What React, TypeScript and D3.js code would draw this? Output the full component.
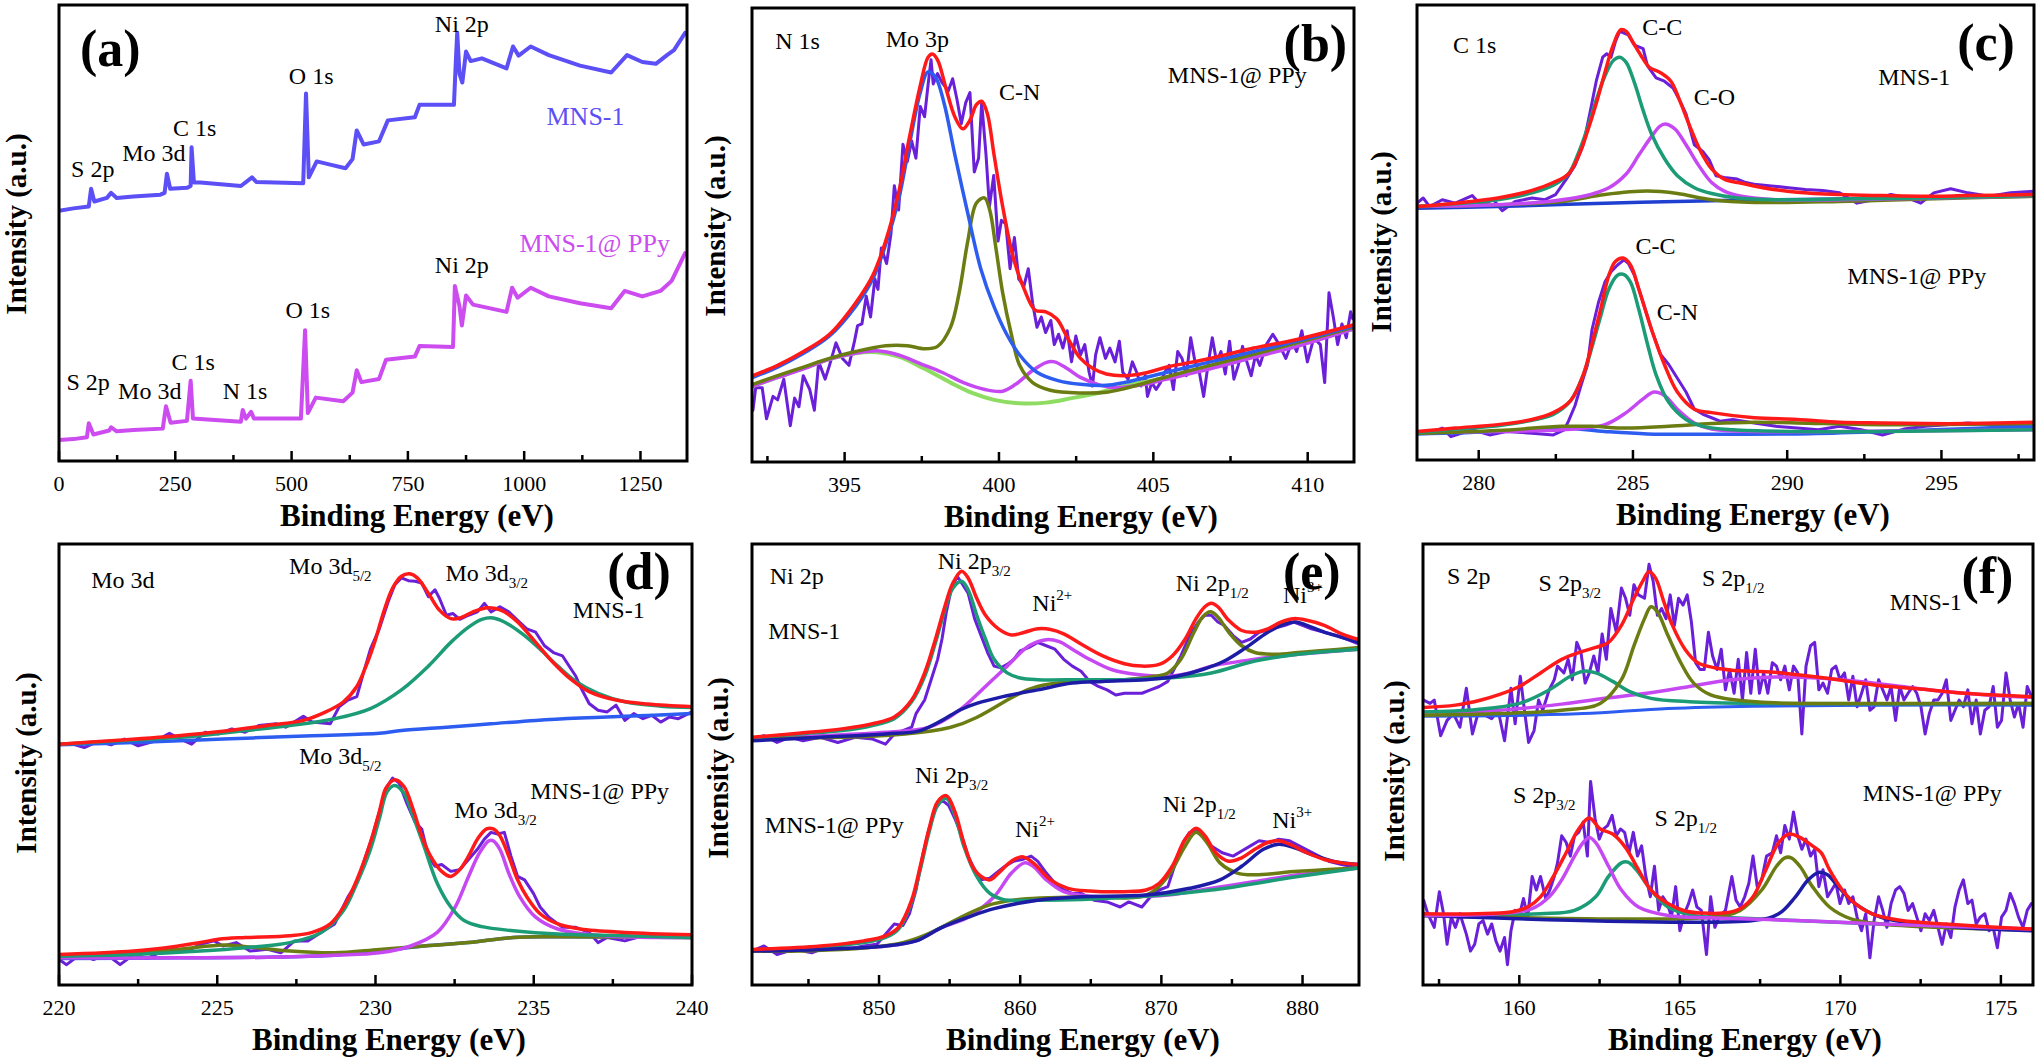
import * as d3 from "d3";

type Pt = [number, number];

const SERIF = "'Liberation Serif', 'Times New Roman', Times, serif";

// colours
const RAW = "#6a1fd8";
const FIT = "#ff1a1a";
const TEAL = "#1c9c76";
const OLIVE = "#6b7d12";
const PINK = "#c648f2";
const BLUE = "#2d5cf0";
const NAVY = "#1c1ca6";
const LIME = "#8fdc62";

// ---------------- (a) survey ----------------
const A_MNS1: Pt[] = [[0,54.9],[31,55.4],[64,55.8],[69,59.7],[76,56.9],[103,57.7],[112,58.8],[124,57.7],[160,58.0],[218,58.4],[227,58.8],[232,63.0],[239,59.7],[275,59.9],[283,60.3],[285,68.8],[290,61.1],[304,61.1],[391,60.3],[415,62.2],[424,61.2],[525,60.9],[531,80.6],[537,62.2],[554,65.7],[583,65.0],[616,64.2],[631,66.2],[640,72.5],[655,69.4],[688,70.1],[707,74.7],[765,75.4],[775,78.1],[849,78.1],[853,87.5],[856,93.9],[861,84.9],[867,83.0],[875,89.8],[885,87.7],[909,88.3],[962,86.1],[976,90.9],[988,88.9],[1014,90.9],[1053,89.0],[1120,86.7],[1187,85.2],[1221,89.0],[1254,87.5],[1283,87.1],[1307,89.0],[1322,90.1],[1346,93.9]];
const A_PPY: Pt[] = [[0,4.6],[31,4.8],[60,5.2],[64,8.3],[74,5.8],[108,6.7],[112,7.4],[124,6.5],[160,6.8],[223,7.1],[230,12.0],[240,8.4],[275,8.8],[283,17.6],[288,9.3],[391,8.6],[395,11.2],[402,9.3],[413,10.8],[419,9.3],[520,9.3],[529,28.7],[535,10.5],[552,13.9],[611,13.1],[631,15.0],[640,19.9],[650,17.3],[688,18.0],[703,22.2],[765,22.9],[775,25.2],[847,25.0],[851,38.4],[861,33.9],[866,29.7],[875,36.3],[890,34.3],[962,32.7],[974,38.0],[986,35.8],[1014,38.0],[1053,36.1],[1120,34.6],[1187,33.5],[1216,37.3],[1254,36.1],[1293,37.3],[1317,39.5],[1346,45.6]];
const A_MAJOR = [0, 250, 500, 750, 1000, 1250];
const A_MINOR = [125, 375, 625, 875, 1125];

// ---------------- (b) N 1s ----------------
const B_RAW: Pt[] = [[392.03,150],[392.12,215],[392.33,215],[392.47,125],[392.68,190],[392.83,180],[393.03,240],[393.24,105],[393.38,185],[393.52,160],[393.66,250],[393.87,210],[394.02,150],[394.16,290],[394.37,240],[394.51,280],[394.72,345],[394.93,300],[395.14,280],[395.32,350],[395.42,395],[395.56,400],[395.70,480],[395.84,420],[395.98,530],[396.08,500],[396.19,620],[396.36,575],[396.50,660],[396.61,800],[396.75,730],[396.89,920],[397.03,870],[397.17,930],[397.31,880],[397.45,1030],[397.59,1000],[397.70,1090],[397.80,1165],[397.87,1095],[398.01,1125],[398.15,1100],[398.36,1075],[398.50,1110],[398.64,1050],[398.78,980],[398.92,1040],[399.06,1070],[399.20,840],[399.34,880],[399.44,1042],[399.58,890],[399.69,740],[399.83,830],[399.97,640],[400.08,700],[400.22,690],[400.36,560],[400.50,650],[400.64,530],[400.81,510],[400.95,560],[401.09,460],[401.23,390],[401.37,420],[401.51,375],[401.68,410],[401.79,340],[401.93,370],[402.07,330],[402.21,380],[402.35,290],[402.49,365],[402.64,310],[402.78,340],[402.92,260],[403.03,220],[403.13,310],[403.27,360],[403.45,300],[403.59,330],[403.76,290],[403.90,350],[404.01,260],[404.18,240],[404.32,290],[404.46,260],[404.60,220],[404.74,250],[404.81,190],[404.95,230],[405.09,210],[405.23,230],[405.37,260],[405.51,280],[405.65,210],[405.79,320],[405.93,300],[406.07,250],[406.21,360],[406.35,290],[406.49,260],[406.63,190],[406.77,280],[406.91,360],[407.05,290],[407.19,320],[407.33,255],[407.47,350],[407.61,240],[407.75,280],[407.89,335],[408.03,290],[408.17,250],[408.31,310],[408.45,280],[408.66,340],[408.87,370],[409.08,340],[409.29,300],[409.50,350],[409.64,320],[409.81,380],[409.99,290],[410.20,360],[410.41,340],[410.55,230],[410.69,490],[410.83,420],[410.97,340],[411.11,400],[411.25,360],[411.39,435],[411.46,415]];
const B_ENV: Pt[] = [[392.03,250],[392.83,280],[393.67,320],[394.51,370],[395.35,460],[395.91,540],[396.33,640],[396.75,780],[397.10,940],[397.45,1090],[397.70,1172],[397.84,1182],[398.01,1165],[398.29,1080],[398.57,1000],[398.83,965],[399.06,990],[399.27,1035],[399.44,1045],[399.62,1010],[399.84,890],[400.12,740],[400.47,590],[400.82,500],[401.17,440],[401.52,435],[401.87,415],[402.22,360],[402.64,300],[403.06,270],[403.48,255],[404.04,250],[404.74,258],[405.44,275],[406.84,300],[408.25,330],[409.65,355],[411.47,397]];
const B_MO3P: Pt[] = [[392.03,245],[392.83,275],[393.67,315],[394.51,365],[395.35,450],[395.91,530],[396.33,630],[396.75,760],[397.10,920],[397.45,1070],[397.70,1130],[397.94,1115],[398.22,1040],[398.57,890],[398.99,720],[399.41,560],[399.84,450],[400.25,370],[400.67,310],[401.23,260],[401.94,235],[402.64,225],[403.48,222],[404.04,230],[405.44,260],[406.84,290],[408.25,320],[409.65,350],[411.47,393]];
const B_CN: Pt[] = [[392.03,225],[392.83,250],[393.67,275],[394.51,300],[395.35,320],[396.33,337],[397.03,337],[397.59,328],[398.01,335],[398.43,390],[398.71,490],[398.99,640],[399.27,750],[399.53,765],[399.70,730],[399.90,620],[400.12,490],[400.40,370],[400.67,280],[401.09,230],[401.66,208],[402.64,200],[403.48,202],[404.04,212],[405.44,247],[406.84,280],[408.25,312],[409.65,345],[411.47,390]];
const B_PEAK3: Pt[] = [[392.03,220],[392.83,245],[393.67,270],[394.51,298],[395.35,315],[396.05,322],[396.75,310],[397.45,285],[398.15,260],[398.85,230],[399.55,210],[400.12,205],[400.54,225],[401.09,265],[401.52,288],[401.80,290],[402.22,270],[402.64,245],[403.20,225],[403.76,215],[404.74,225],[405.44,240],[406.84,270],[408.25,303],[409.65,335],[411.47,385]];
const B_BG: Pt[] = [[392.03,220],[392.83,245],[393.67,272],[394.51,298],[395.35,315],[396.05,318],[396.75,305],[397.59,270],[398.43,230],[399.13,200],[399.84,180],[400.67,170],[401.52,172],[402.36,185],[403.20,200],[404.04,220],[405.44,245],[406.84,275],[408.25,305],[409.65,340],[411.47,385]];
const B_MAJOR = [395, 400, 405, 410];
const B_MINOR = [392.5, 397.5, 402.5, 407.5];

// ---------------- (c) C 1s ----------------
const C_UP_RAW: Pt[] = [[278.0,748],[278.20,763],[278.41,738],[278.82,758],[279.24,748],[279.79,770],[280.07,743],[280.48,758],[280.76,726],[281.18,753],[281.73,763],[282.15,758],[282.49,773],[282.84,818],[283.12,858],[283.39,918],[283.60,1008],[283.81,1103],[284.02,1173],[284.15,1183],[284.29,1173],[284.43,1218],[284.57,1248],[284.71,1243],[284.85,1238],[285.05,1208],[285.33,1198],[285.47,1148],[285.75,1113],[286.02,1103],[286.30,1083],[286.51,1048],[286.72,1008],[286.99,918],[287.27,898],[287.48,873],[287.69,828],[287.96,823],[288.38,818],[288.66,808],[288.93,803],[289.49,798],[290.04,793],[290.59,788],[291.15,785],[291.70,778],[292.26,748],[292.81,758],[293.36,773],[293.92,763],[294.33,748],[294.75,778],[295.30,790],[295.86,778],[296.55,768],[297.24,778],[298.0,783]];
const C_UP_ENV: Pt[] = [[278.0,738],[279.24,748],[280.62,763],[281.73,785],[282.42,808],[282.91,833],[283.25,888],[283.53,958],[283.81,1038],[284.09,1128],[284.36,1208],[284.61,1253],[284.78,1248],[284.99,1218],[285.26,1178],[285.54,1143],[285.89,1128],[286.23,1103],[286.51,1048],[286.86,968],[287.20,898],[287.55,848],[287.96,818],[288.52,806],[289.21,793],[290.32,780],[291.70,773],[293.09,770],[294.47,768],[295.86,770],[298.0,773]];
const C_UP_CC: Pt[] = [[278.0,738],[279.24,746],[280.62,758],[281.73,778],[282.42,800],[282.91,833],[283.25,898],[283.53,968],[283.81,1048],[284.09,1118],[284.36,1163],[284.57,1173],[284.78,1158],[285.05,1098],[285.33,1018],[285.61,948],[286.02,878],[286.44,828],[286.99,793],[287.55,776],[288.38,763],[289.63,758],[291.70,760],[294.47,763],[298.0,770]];
const C_UP_CO: Pt[] = [[278.0,738],[280.62,743],[282.28,753],[283.39,768],[284.22,793],[284.78,833],[285.19,888],[285.61,943],[285.89,973],[286.09,978],[286.37,963],[286.72,918],[287.13,858],[287.55,808],[287.96,783],[288.52,768],[289.63,758],[291.70,758],[294.47,762],[298.0,770]];
const C_UP_OLIVE: Pt[] = [[278.0,738],[280.62,743],[282.70,753],[284.09,773],[285.47,783],[286.44,776],[287.55,758],[288.93,750],[291.70,753],[294.47,760],[298.0,768]];
const C_UP_BG: Pt[] = [[278.0,733],[280.62,738],[284.09,748],[287.55,755],[291.70,760],[298.0,768]];
const C_LO_RAW: Pt[] = [[278.0,83],[278.41,78],[278.82,93],[279.10,68],[279.79,88],[280.35,73],[280.90,83],[281.73,78],[282.42,73],[282.77,88],[282.91,113],[283.12,158],[283.32,218],[283.53,278],[283.67,378],[283.88,458],[284.09,518],[284.29,548],[284.50,568],[284.71,583],[284.85,573],[285.05,538],[285.33,458],[285.61,378],[285.89,308],[286.16,278],[286.44,238],[286.72,198],[286.99,148],[287.27,133],[287.55,123],[287.82,113],[288.24,118],[288.93,108],[289.63,98],[290.32,93],[291.01,88],[291.70,98],[292.40,88],[293.09,73],[293.78,90],[294.47,98],[295.17,103],[295.86,108],[296.55,103],[297.24,98],[298.0,103]];
const C_LO_ENV: Pt[] = [[278.0,83],[279.24,93],[280.62,103],[281.73,118],[282.42,138],[282.98,173],[283.39,248],[283.67,338],[283.95,438],[284.22,538],[284.43,578],[284.68,588],[284.92,568],[285.19,498],[285.61,378],[286.02,278],[286.44,198],[286.99,148],[287.55,138],[288.93,123],[290.32,118],[291.70,110],[293.09,108],[294.47,106],[295.86,106],[298.0,110]];
const C_LO_CC: Pt[] = [[278.0,80],[279.24,90],[280.62,100],[281.73,116],[282.42,133],[282.98,173],[283.39,248],[283.67,328],[283.95,418],[284.22,498],[284.50,538],[284.71,540],[284.92,518],[285.19,438],[285.47,338],[285.75,248],[286.16,168],[286.72,118],[287.27,98],[288.24,88],[290.32,83],[293.09,83],[298.0,88]];
const C_LO_CN: Pt[] = [[278.0,80],[280.62,83],[282.70,88],[284.09,103],[284.78,138],[285.33,178],[285.68,198],[286.02,188],[286.44,148],[286.99,108],[287.55,90],[288.93,83],[291.70,83],[298.0,88]];
const C_LO_OLIVE: Pt[] = [[278.0,78],[280.62,86],[282.70,98],[283.67,98],[284.78,93],[286.16,98],[287.55,106],[288.93,110],[290.32,108],[293.09,103],[298.0,106]];
const C_LO_BG: Pt[] = [[278.0,76],[280.62,83],[282.70,93],[284.09,83],[285.47,76],[287.55,75],[290.32,76],[293.09,83],[298.0,98]];
const C_MAJOR = [280, 285, 290, 295];
const C_MINOR = [282.5, 287.5, 292.5, 297.5];

// ---------------- (d) Mo 3d ----------------
const D_UP_RAW: Pt[] = [[220.0,710],[220.38,712],[220.80,700],[221.23,718],[221.65,708],[222.07,725],[222.50,705],[223.06,720],[223.49,742],[223.77,728],[224.19,710],[224.61,745],[225.04,740],[225.46,755],[225.88,745],[226.31,765],[226.87,770],[227.16,760],[227.72,792],[228.0,775],[228.57,770],[228.85,820],[229.13,840],[229.41,850],[229.62,920],[229.84,990],[230.12,1050],[230.40,1130],[230.61,1180],[230.82,1200],[231.04,1192],[231.25,1190],[231.46,1185],[231.67,1145],[231.88,1165],[232.02,1140],[232.24,1090],[232.45,1095],[232.66,1078],[232.94,1090],[233.22,1100],[233.44,1125],[233.65,1100],[233.93,1115],[234.21,1100],[234.49,1075],[234.78,1050],[235.06,1040],[235.34,1000],[235.62,980],[235.91,970],[236.33,910],[236.47,880],[236.75,830],[237.03,810],[237.32,805],[237.60,825],[237.88,780],[238.16,800],[238.45,785],[238.73,795],[239.01,775],[239.29,790],[239.57,785],[240.0,805]];
const D_UP_ENV: Pt[] = [[220.0,710],[221.65,720],[223.77,735],[225.18,748],[226.59,765],[227.72,780],[228.43,805],[228.99,835],[229.41,880],[229.70,940],[229.97,1010],[230.26,1100],[230.54,1170],[230.82,1205],[231.08,1212],[231.32,1200],[231.67,1155],[232.02,1105],[232.38,1080],[232.66,1082],[233.08,1100],[233.51,1112],[233.79,1110],[234.07,1100],[234.49,1070],[235.06,1010],[235.62,950],[236.19,900],[236.75,865],[237.60,840],[238.59,828],[240.0,820]];
const D_UP_D32: Pt[] = [[220.0,710],[222.36,722],[224.47,735],[225.88,750],[227.30,765],[228.71,785],[229.84,815],[230.82,870],[231.67,940],[232.38,1010],[232.94,1055],[233.36,1078],[233.72,1082],[234.07,1070],[234.64,1035],[235.20,990],[235.76,940],[236.33,895],[237.03,860],[237.88,835],[239.01,822],[240.0,818]];
const D_UP_BG: Pt[] = [[220.0,708],[222.36,715],[225.18,725],[228.0,735],[230.12,742],[230.82,750],[232.24,760],[233.65,770],[235.06,780],[236.47,787],[237.88,792],[240.0,800]];
const D_LO_RAW: Pt[] = [[220.0,75],[220.24,60],[220.66,90],[221.09,75],[221.51,90],[221.93,60],[222.36,90],[222.78,78],[223.49,110],[224.05,100],[224.47,120],[224.90,130],[225.18,115],[225.60,125],[226.03,100],[226.59,105],[227.01,95],[227.44,130],[227.86,130],[228.28,155],[228.71,180],[229.13,260],[229.41,300],[229.62,360],[229.91,440],[230.12,510],[230.33,580],[230.54,610],[230.75,595],[230.97,540],[231.25,480],[231.46,460],[231.67,380],[231.88,350],[232.09,355],[232.38,335],[232.66,340],[232.94,370],[233.22,400],[233.44,430],[233.65,450],[233.86,445],[234.07,450],[234.28,380],[234.49,320],[234.71,310],[234.99,270],[235.20,230],[235.48,200],[235.91,170],[236.33,170],[236.75,155],[237.03,125],[237.32,140],[237.88,130],[238.45,145],[239.01,140],[239.57,145],[240.0,140]];
const D_LO_ENV: Pt[] = [[220.0,90],[222.36,100],[223.77,115],[224.47,125],[225.04,135],[225.88,140],[227.30,145],[228.0,155],[228.57,180],[228.99,230],[229.41,310],[229.84,420],[230.12,510],[230.33,580],[230.61,605],[230.90,585],[231.18,520],[231.46,440],[231.74,380],[232.09,335],[232.38,320],[232.66,340],[232.94,380],[233.22,430],[233.51,460],[233.72,460],[233.93,440],[234.21,380],[234.49,310],[234.78,260],[235.20,210],[235.76,180],[236.47,165],[237.88,155],[240.0,148]];
const D_LO_D52: Pt[] = [[220.0,85],[222.36,90],[224.47,100],[225.88,110],[227.30,125],[228.28,155],[228.99,220],[229.41,300],[229.84,400],[230.12,490],[230.37,570],[230.61,588],[230.90,565],[231.18,500],[231.53,410],[231.95,300],[232.38,230],[232.80,190],[233.36,172],[234.35,160],[235.76,150],[237.88,145],[240.0,140]];
const D_LO_D32: Pt[] = [[220.0,80],[223.77,80],[226.59,82],[228.71,88],[230.12,95],[231.11,115],[231.95,155],[232.52,230],[232.94,320],[233.29,390],[233.58,425],[233.72,425],[233.93,400],[234.21,330],[234.56,260],[235.06,200],[235.76,165],[237.18,145],[240.0,140]];
const D_LO_OLIVE: Pt[] = [[220.0,80],[221.65,90],[223.77,105],[225.18,118],[226.03,112],[227.30,100],[228.71,95],[230.12,105],[231.53,115],[232.94,125],[234.35,140],[235.76,142],[240.0,140]];
const D_LO_BG: Pt[] = [[220.0,78],[223.77,80],[226.59,82],[228.71,88],[230.12,100],[231.53,115],[232.94,125],[234.35,140],[235.76,142],[240.0,140]];
const D_MAJOR = [220, 225, 230, 235, 240];
const D_MINOR = [222.5, 227.5, 232.5, 237.5];

// ---------------- (e) Ni 2p ----------------
const E_UP_RAW: Pt[] = [[841.02,725],[841.85,735],[842.77,715],[843.69,730],[844.62,720],[845.85,730],[847.08,715],[848.31,730],[849.54,725],[850.46,710],[851.08,740],[851.69,750],[852.31,760],[852.62,800],[853.23,840],[853.69,900],[854.15,960],[854.46,1020],[854.77,1100],[855.08,1160],[855.54,1205],[855.85,1185],[856.31,1155],[856.77,1080],[857.23,1030],[857.69,980],[858.15,940],[858.62,935],[859.08,945],[859.54,960],[860.0,985],[860.62,995],[861.23,1010],[861.85,1000],[862.46,990],[863.08,960],[863.69,940],[864.31,925],[864.92,895],[865.54,880],[866.15,870],[866.77,855],[867.38,860],[868.0,860],[868.62,860],[869.23,870],[869.85,880],[870.46,895],[870.77,920],[871.38,970],[872.0,1030],[872.62,1070],[873.08,1090],[873.54,1090],[874.0,1070],[874.46,1060],[875.08,1030],[875.69,1010],[876.31,1020],[876.92,1040],[877.85,1050],[878.77,1060],[879.38,1070],[880.0,1060],[880.62,1050],[881.54,1040],[882.46,1030],[883.38,1015],[884.0,1005]];
const E_UP_ENV: Pt[] = [[841.02,730],[844.31,742],[847.38,755],[849.54,770],[851.08,790],[852.31,840],[853.23,920],[854.0,1020],[854.62,1110],[855.23,1185],[855.85,1220],[856.31,1200],[856.92,1140],[857.54,1090],[858.46,1050],[859.38,1032],[860.31,1040],[861.23,1050],[862.15,1048],[863.08,1035],[864.31,1005],[865.85,970],[867.38,947],[868.62,940],[869.85,945],[870.77,970],[871.69,1020],[872.46,1080],[873.08,1115],[873.54,1125],[874.0,1115],[874.77,1075],[875.69,1045],[876.62,1040],[877.54,1050],[878.46,1070],[879.38,1080],[880.31,1075],[881.54,1060],[882.77,1035],[884.0,1018]];
const E_UP_P32: Pt[] = [[841.02,728],[844.31,740],[847.38,750],[849.54,765],[851.08,785],[852.31,835],[853.23,910],[854.0,1010],[854.62,1100],[855.23,1170],[855.85,1190],[856.31,1165],[856.92,1090],[857.54,1020],[858.15,960],[859.08,920],[860.0,905],[861.23,900],[864.31,900],[867.38,900],[870.46,905],[873.54,920],[876.62,955],[879.69,975],[884.0,990]];
const E_UP_NI2: Pt[] = [[841.02,728],[845.85,735],[850.46,745],[853.54,760],[855.69,810],[857.54,880],[859.08,940],[860.62,1000],[861.85,1018],[862.77,1012],[863.69,990],[864.92,960],[866.46,930],[868.31,915],[870.46,910],[872.0,920],[873.54,940],[876.62,960],[879.69,975],[884.0,990]];
const E_UP_P12: Pt[] = [[841.02,728],[855.08,760],[861.23,880],[867.38,900],[869.23,908],[870.46,920],[871.38,960],[872.31,1040],[872.92,1085],[873.48,1100],[874.0,1085],[874.77,1040],[875.69,1000],[876.62,980],[878.15,975],[879.69,980],[881.23,985],[884.0,995]];
const E_UP_NI3: Pt[] = [[841.02,720],[845.85,730],[850.46,740],[852.92,750],[854.46,780],[855.69,810],[856.92,830],[858.77,850],[861.23,870],[863.69,890],[865.85,895],[868.92,900],[871.08,910],[872.92,930],[874.46,955],[876.0,995],[877.54,1040],[878.77,1065],[879.54,1070],[880.31,1060],[881.54,1040],[882.77,1025],[884.0,1010]];
const E_LO_RAW: Pt[] = [[841.02,100],[841.85,115],[842.77,90],[844.0,105],[845.23,95],[846.46,115],[847.69,105],[848.92,115],[849.85,120],[850.46,150],[851.08,180],[851.69,175],[852.15,210],[852.62,280],[853.08,380],[853.54,460],[854.0,520],[854.46,545],[854.92,530],[855.38,490],[855.85,440],[856.31,380],[856.77,340],[857.23,310],[857.85,315],[858.31,330],[858.92,350],[859.54,365],[860.15,370],[860.77,380],[861.23,365],[861.85,330],[862.46,300],[863.08,280],[863.69,270],[864.31,270],[865.23,250],[866.15,245],[867.08,230],[867.69,245],[868.62,230],[869.23,260],[869.85,280],[870.46,290],[871.08,370],[871.54,420],[872.0,450],[872.46,455],[872.92,440],[873.54,410],[874.31,390],[875.08,380],[875.69,395],[876.31,410],[876.92,425],[877.69,420],[878.31,430],[879.08,425],[880.0,405],[880.92,385],[881.85,365],[882.77,355],[884.0,345]];
const E_LO_ENV: Pt[] = [[841.02,105],[845.85,115],[848.92,130],[850.46,145],[851.38,170],[852.31,250],[852.92,350],[853.54,460],[854.15,540],[854.77,558],[855.38,510],[856.0,420],[856.62,350],[857.23,320],[857.85,310],[858.46,330],[859.38,365],[860.15,378],[860.92,360],[862.15,310],[863.38,285],[864.92,277],[867.38,275],[868.92,280],[869.85,300],[870.77,350],[871.69,430],[872.46,462],[873.08,440],[873.85,390],[874.77,365],[875.69,375],[876.62,400],[877.54,420],[878.31,425],[879.08,415],[880.31,390],[881.54,370],[882.77,360],[884.0,355]];
const E_LO_P32: Pt[] = [[841.02,102],[845.85,112],[848.92,125],[850.46,140],[851.38,165],[852.31,245],[852.92,340],[853.54,450],[854.15,530],[854.77,550],[855.38,500],[856.0,410],[856.92,320],[857.85,270],[858.77,252],[861.23,250],[867.38,258],[873.54,280],[879.69,320],[884.0,345]];
const E_LO_NI2: Pt[] = [[841.02,100],[845.85,105],[850.46,115],[852.62,130],[854.46,170],[856.31,200],[858.15,260],[859.38,330],[860.31,360],[860.92,350],[861.85,310],[863.08,275],[864.92,262],[867.38,260],[870.46,265],[873.54,285],[876.62,305],[879.69,325],[884.0,345]];
const E_LO_P12: Pt[] = [[841.02,100],[851.69,125],[858.15,240],[864.31,260],[868.92,265],[870.46,320],[871.69,410],[872.46,450],[873.23,420],[874.15,360],[875.38,330],[876.62,325],[879.69,335],[884.0,345]];
const E_LO_NI3: Pt[] = [[841.02,100],[845.85,105],[850.46,115],[852.62,130],[854.46,170],[856.31,200],[858.15,225],[861.23,250],[864.31,260],[868.92,265],[872.0,285],[874.15,310],[875.69,350],[877.23,400],[878.31,415],[879.38,405],[880.62,385],[882.15,365],[884.0,355]];
const E_MAJOR = [850, 860, 870, 880];
const E_MINOR = [845, 855, 865, 875];

// ---------------- (f) S 2p ----------------
const F_UP_RAW: Pt[] = [[157.02,840],[157.22,830],[157.35,840],[157.55,735],[157.75,780],[157.95,800],[158.15,760],[158.35,875],[158.54,740],[158.74,810],[158.94,795],[159.14,785],[159.34,810],[159.54,720],[159.74,875],[159.87,770],[160.03,910],[160.16,810],[160.29,715],[160.46,750],[160.60,840],[160.73,810],[160.93,870],[161.09,900],[161.19,940],[161.39,920],[161.52,960],[161.65,900],[161.79,1010],[161.92,980],[162.05,890],[162.18,920],[162.32,970],[162.45,920],[162.58,1035],[162.71,960],[162.85,1110],[163.02,1040],[163.18,1170],[163.31,1140],[163.44,1090],[163.57,1180],[163.71,1150],[163.90,1140],[164.04,1240],[164.17,1190],[164.30,1090],[164.43,1110],[164.57,1080],[164.70,1150],[164.83,1060],[164.96,1140],[165.10,1120],[165.23,1150],[165.36,1070],[165.49,950],[165.63,930],[165.76,930],[165.89,1040],[166.02,970],[166.16,930],[166.29,990],[166.42,870],[166.55,930],[166.69,860],[166.82,960],[166.95,840],[167.08,980],[167.21,860],[167.35,990],[167.48,860],[167.61,920],[167.74,860],[167.88,950],[168.01,940],[168.14,900],[168.27,940],[168.41,870],[168.54,940],[168.67,920],[168.80,740],[168.93,940],[169.07,1000],[169.20,1010],[169.33,870],[169.46,890],[169.60,860],[169.73,930],[169.86,940],[169.99,900],[170.13,920],[170.26,840],[170.39,910],[170.52,820],[170.66,860],[170.79,900],[170.92,810],[171.05,820],[171.19,900],[171.32,870],[171.45,840],[171.58,880],[171.72,780],[171.85,880],[171.98,840],[172.11,860],[172.25,880],[172.38,860],[172.51,820],[172.64,740],[172.77,800],[172.91,840],[173.04,840],[173.17,860],[173.30,900],[173.44,780],[173.57,810],[173.70,840],[173.83,820],[173.97,870],[174.10,770],[174.23,840],[174.36,740],[174.50,810],[174.63,820],[174.76,880],[174.89,760],[175.02,780],[175.16,920],[175.29,840],[175.42,790],[175.55,830],[175.69,760],[175.82,880],[175.95,850]];
const F_UP_ENV: Pt[] = [[157.02,818],[158.01,825],[158.81,840],[159.34,855],[160.0,880],[160.66,920],[161.32,960],[161.85,980],[162.38,995],[162.78,1010],[163.18,1060],[163.57,1140],[163.84,1190],[164.04,1218],[164.24,1200],[164.50,1130],[164.77,1060],[165.16,990],[165.56,950],[166.09,935],[166.62,928],[167.28,925],[167.94,922],[168.60,915],[169.27,908],[169.93,900],[170.59,890],[171.25,882],[172.58,872],[173.90,860],[175.95,850]];
const F_UP_P32: Pt[] = [[157.02,805],[158.68,812],[160.0,830],[160.93,870],[161.59,910],[161.99,925],[162.38,920],[162.91,895],[163.44,865],[164.10,845],[165.30,835],[167.28,830],[175.95,830]];
const F_UP_P12: Pt[] = [[157.02,795],[159.34,800],[161.32,810],[162.52,830],[163.18,900],[163.57,1000],[163.90,1080],[164.10,1115],[164.30,1100],[164.63,1030],[165.03,950],[165.43,890],[165.96,855],[166.75,840],[167.94,832],[171.25,830],[175.95,830]];
const F_UP_BROAD: Pt[] = [[157.02,805],[159.34,810],[161.32,828],[162.65,845],[163.97,860],[165.30,880],[166.62,900],[167.94,908],[169.27,905],[170.59,895],[171.91,880],[173.24,865],[174.56,855],[175.95,848]];
const F_UP_BG: Pt[] = [[157.02,792],[159.34,794],[161.99,800],[164.63,815],[167.28,822],[171.25,825],[175.95,825]];
const F_LO_RAW: Pt[] = [[157.02,250],[157.15,210],[157.35,170],[157.51,275],[157.64,210],[157.75,120],[157.88,200],[158.01,170],[158.15,210],[158.35,150],[158.48,100],[158.61,120],[158.74,180],[158.87,190],[159.01,150],[159.14,180],[159.27,130],[159.40,100],[159.54,140],[159.63,60],[159.74,160],[159.87,220],[160.0,205],[160.13,255],[160.26,200],[160.40,320],[160.53,280],[160.66,320],[160.82,255],[160.95,280],[161.09,320],[161.19,360],[161.32,440],[161.46,420],[161.59,380],[161.72,440],[161.85,450],[161.99,480],[162.12,380],[162.22,600],[162.36,490],[162.49,430],[162.62,460],[162.75,470],[162.89,500],[163.02,440],[163.15,460],[163.28,450],[163.42,390],[163.55,450],[163.68,380],[163.81,410],[163.94,320],[164.08,260],[164.21,350],[164.34,220],[164.47,260],[164.61,240],[164.74,200],[164.87,290],[165.0,160],[165.14,210],[165.27,240],[165.40,280],[165.53,230],[165.67,220],[165.83,90],[165.96,260],[166.09,170],[166.22,200],[166.42,220],[166.62,320],[166.75,250],[166.88,230],[167.02,260],[167.15,300],[167.28,380],[167.41,290],[167.55,310],[167.70,380],[167.88,390],[168.01,440],[168.14,390],[168.27,470],[168.41,430],[168.54,510],[168.67,440],[168.80,400],[168.93,430],[169.07,380],[169.20,400],[169.33,290],[169.46,340],[169.60,260],[169.73,280],[169.86,300],[169.99,240],[170.13,280],[170.26,240],[170.39,260],[170.52,200],[170.66,160],[170.79,210],[170.92,80],[171.05,190],[171.19,260],[171.32,220],[171.45,170],[171.58,240],[171.72,280],[171.85,290],[171.98,270],[172.11,220],[172.25,240],[172.38,200],[172.51,160],[172.64,210],[172.77,190],[172.91,220],[173.04,170],[173.17,120],[173.30,180],[173.44,140],[173.57,230],[173.70,280],[173.83,310],[173.97,240],[174.10,250],[174.23,180],[174.36,200],[174.50,210],[174.63,160],[174.76,170],[174.89,110],[175.02,200],[175.16,220],[175.29,270],[175.42,240],[175.55,200],[175.69,170],[175.82,220],[175.95,240]];
const F_LO_ENV: Pt[] = [[157.02,210],[158.68,210],[159.74,215],[160.26,230],[160.66,260],[161.06,320],[161.46,390],[161.85,460],[162.18,492],[162.52,460],[162.91,445],[163.31,405],[163.71,340],[164.10,280],[164.63,240],[165.16,218],[165.69,212],[166.35,212],[166.88,225],[167.28,260],[167.68,340],[168.08,420],[168.41,445],[168.74,435],[169.13,410],[169.40,390],[169.66,340],[170.06,280],[170.46,240],[170.99,210],[171.91,190],[173.24,180],[174.56,172],[175.95,165]];
const F_LO_P32: Pt[] = [[157.02,205],[159.34,210],[160.40,225],[160.93,260],[161.32,310],[161.72,380],[161.99,420],[162.18,435],[162.38,420],[162.78,350],[163.18,280],[163.71,230],[164.63,205],[165.96,198],[168.60,190],[171.25,180],[175.95,165]];
const F_LO_P12: Pt[] = [[157.02,205],[160.66,210],[161.72,220],[162.38,260],[162.78,320],[163.18,360],[163.38,362],[163.64,340],[164.10,280],[164.63,230],[165.43,205],[166.62,198],[175.95,162]];
const F_LO_OLIVE: Pt[] = [[157.02,205],[165.96,200],[166.88,220],[167.55,280],[168.01,350],[168.27,375],[168.47,375],[168.74,350],[169.13,290],[169.66,230],[170.33,195],[171.25,180],[175.95,162]];
const F_LO_NAVY: Pt[] = [[157.02,205],[167.28,190],[168.08,210],[168.60,260],[169.00,310],[169.33,332],[169.60,325],[169.93,290],[170.46,240],[171.25,200],[172.58,178],[175.95,160]];
const F_MAJOR = [160, 165, 170, 175];
const F_MINOR = [157.5, 162.5, 167.5, 172.5];

// ---------------- annotations (data coordinates) ----------------
type Note = { e: number; v: number; t: string; sub?: string; sup?: string; color?: string; big?: boolean };

const A_NOTES: Note[] = [
  { e: 808, v: 95.8, t: "Ni 2p" }, { e: 494, v: 84.5, t: "O 1s" }, { e: 245, v: 73.0, t: "C 1s" },
  { e: 136, v: 67.5, t: "Mo 3d" }, { e: 26, v: 64.1, t: "S 2p" },
  { e: 1048, v: 75.4, t: "MNS-1", color: "#5b4ff5", big: true },
  { e: 990, v: 47.5, t: "MNS-1@ PPy", color: "#cc4cf0", big: true },
  { e: 808, v: 42.9, t: "Ni 2p" }, { e: 487, v: 33.1, t: "O 1s" }, { e: 242, v: 21.8, t: "C 1s" },
  { e: 16, v: 17.3, t: "S 2p" }, { e: 127, v: 15.4, t: "Mo 3d" }, { e: 352, v: 15.4, t: "N 1s" },
];
const B_NOTES: Note[] = [
  { e: 392.75, v: 1220, t: "N 1s" }, { e: 396.33, v: 1225, t: "Mo 3p" },
  { e: 400.0, v: 1072, t: "C-N" }, { e: 405.47, v: 1122, t: "MNS-1@ PPy" },
];
const C_NOTES: Note[] = [
  { e: 279.17, v: 1208, t: "C 1s" }, { e: 285.3, v: 1260, t: "C-C" }, { e: 286.97, v: 1058, t: "C-O" },
  { e: 292.95, v: 1116, t: "MNS-1" }, { e: 285.08, v: 623, t: "C-C" },
  { e: 291.95, v: 535, t: "MNS-1@ PPy" }, { e: 285.77, v: 430, t: "C-N" },
];
const D_NOTES: Note[] = [
  { e: 221.02, v: 1195, t: "Mo 3d" }, { e: 227.27, v: 1235, t: "Mo 3d", sub: "5/2" },
  { e: 232.21, v: 1215, t: "Mo 3d", sub: "3/2" }, { e: 236.23, v: 1105, t: "MNS-1" },
  { e: 227.58, v: 675, t: "Mo 3d", sub: "5/2" }, { e: 234.89, v: 572, t: "MNS-1@ PPy" },
  { e: 232.49, v: 515, t: "Mo 3d", sub: "3/2" },
];
const E_NOTES: Note[] = [
  { e: 842.25, v: 1205, t: "Ni 2p" }, { e: 854.15, v: 1250, t: "Ni 2p", sub: "3/2" },
  { e: 860.86, v: 1125, t: "Ni", sup: "2+" }, { e: 871.01, v: 1185, t: "Ni 2p", sub: "1/2" },
  { e: 878.61, v: 1150, t: "Ni", sup: "3+" }, { e: 842.15, v: 1045, t: "MNS-1" },
  { e: 852.55, v: 620, t: "Ni 2p", sub: "3/2" }, { e: 841.91, v: 472, t: "MNS-1@ PPy" },
  { e: 859.63, v: 460, t: "Ni", sup: "2+" }, { e: 870.09, v: 535, t: "Ni 2p", sub: "1/2" },
  { e: 877.85, v: 485, t: "Ni", sup: "3+" },
];
const F_NOTES: Note[] = [
  { e: 157.75, v: 1205, t: "S 2p" }, { e: 160.6, v: 1185, t: "S 2p", sub: "3/2" },
  { e: 165.69, v: 1200, t: "S 2p", sub: "1/2" }, { e: 171.54, v: 1130, t: "MNS-1" },
  { e: 159.8, v: 560, t: "S 2p", sub: "3/2" }, { e: 170.7, v: 565, t: "MNS-1@ PPy" },
  { e: 164.21, v: 492, t: "S 2p", sub: "1/2" },
];

type Series = { data: Pt[]; color: string; width: number; smooth?: boolean };

type PanelProps = {
  id: string;
  box: [number, number, number, number]; // left, top, right, bottom
  xDomain: [number, number];
  yDomain: [number, number];
  major: number[];
  minor: number[];
  series: Series[];
  notes: Note[];
  letter: { e: number; v: number; t: string };
  titleX: number;
  yLabel: [number, number];
};

const Panel = ({ id, box, xDomain, yDomain, major, minor, series, notes, letter, titleX, yLabel }: PanelProps) => {
  const [left, top, right, bottom] = box;
  const xScale = d3.scaleLinear().domain(xDomain).range([left, right]);
  const yScale = d3.scaleLinear().domain(yDomain).range([bottom, top]);
  const straight = d3.line<Pt>().x((d) => xScale(d[0])).y((d) => yScale(d[1]));
  const smooth = d3
    .line<Pt>()
    .x((d) => xScale(d[0]))
    .y((d) => yScale(d[1]))
    .curve(d3.curveCatmullRom.alpha(0.5));

  return (
    <g>
      <defs>
        <clipPath id={`clip-${id}`}>
          <rect x={left} y={top} width={right - left} height={bottom - top} />
        </clipPath>
      </defs>
      <g clipPath={`url(#clip-${id})`}>
        {series.map((s, i) => (
          <path
            key={i}
            d={(s.smooth ? smooth : straight)(s.data) ?? ""}
            fill="none"
            stroke={s.color}
            strokeWidth={s.width}
            strokeLinejoin="round"
            strokeLinecap="round"
          />
        ))}
      </g>
      <rect x={left} y={top} width={right - left} height={bottom - top} fill="none" stroke="#000" strokeWidth={3} />
      {major.map((t) => (
        <g key={`M${t}`}>
          <line x1={xScale(t)} x2={xScale(t)} y1={bottom} y2={bottom - 10} stroke="#000" strokeWidth={2.5} />
          <text x={xScale(t)} y={bottom + 30} textAnchor="middle" fontSize={22}>
            {t}
          </text>
        </g>
      ))}
      {minor.map((t) => (
        <line key={`m${t}`} x1={xScale(t)} x2={xScale(t)} y1={bottom} y2={bottom - 6} stroke="#000" strokeWidth={2.5} />
      ))}
      <text x={titleX} y={bottom + 65} textAnchor="middle" fontSize={31} fontWeight="bold">
        Binding Energy (eV)
      </text>
      <text
        transform={`translate(${yLabel[0]},${yLabel[1]}) rotate(-90)`}
        textAnchor="middle"
        fontSize={29}
        fontWeight="bold"
      >
        Intensity (a.u.)
      </text>
      {notes.map((n, i) => (
        <text key={i} x={xScale(n.e)} y={yScale(n.v) + 8} fontSize={n.big ? 26 : 24} fill={n.color ?? "#000"}>
          <tspan>{n.t}</tspan>
          {n.sub && (
            <tspan fontSize={15} dy={7}>
              {n.sub}
            </tspan>
          )}
          {n.sup && (
            <tspan fontSize={15} dy={-11}>
              {n.sup}
            </tspan>
          )}
        </text>
      ))}
      <text x={xScale(letter.e)} y={yScale(letter.v) + 13} fontSize={52} fontWeight="bold">
        {letter.t}
      </text>
    </g>
  );
};

export default function App() {
  return (
    <div style={{ position: "absolute", left: 0, top: 0, background: "#fff" }}>
      <svg width={2039} height={1063} style={{ display: "block", background: "#fff", fontFamily: SERIF }}>
        <Panel
          id="a"
          box={[59, 5, 687, 461]}
          xDomain={[0, 1350]}
          yDomain={[0, 100]}
          major={A_MAJOR}
          minor={A_MINOR}
          series={[
            { data: A_MNS1, color: "#5b4ff5", width: 4 },
            { data: A_PPY, color: "#cc4cf0", width: 4 },
          ]}
          notes={A_NOTES}
          letter={{ e: 45, v: 89.5, t: "(a)" }}
          titleX={417}
          yLabel={[26, 224]}
        />
        <Panel
          id="b"
          box={[752, 8, 1354, 462]}
          xDomain={[392, 411.5]}
          yDomain={[0, 1315]}
          major={B_MAJOR}
          minor={B_MINOR}
          series={[
            { data: B_RAW, color: RAW, width: 3 },
            { data: B_BG, color: LIME, width: 4, smooth: true },
            { data: B_PEAK3, color: PINK, width: 3.5, smooth: true },
            { data: B_CN, color: OLIVE, width: 3.5, smooth: true },
            { data: B_MO3P, color: BLUE, width: 3.5, smooth: true },
            { data: B_ENV, color: FIT, width: 3.5, smooth: true },
          ]}
          notes={B_NOTES}
          letter={{ e: 409.22, v: 1200, t: "(b)" }}
          titleX={1081}
          yLabel={[725, 226]}
        />
        <Panel
          id="c"
          box={[1417, 5, 2034, 460]}
          xDomain={[278, 298]}
          yDomain={[0, 1325]}
          major={C_MAJOR}
          minor={C_MINOR}
          series={[
            { data: C_UP_RAW, color: RAW, width: 3 },
            { data: C_UP_BG, color: "#1f3fd0", width: 3.5, smooth: true },
            { data: C_UP_OLIVE, color: OLIVE, width: 3.5, smooth: true },
            { data: C_UP_CO, color: PINK, width: 3.5, smooth: true },
            { data: C_UP_CC, color: TEAL, width: 3.5, smooth: true },
            { data: C_UP_ENV, color: FIT, width: 3.5, smooth: true },
            { data: C_LO_RAW, color: RAW, width: 3 },
            { data: C_LO_BG, color: BLUE, width: 3.5, smooth: true },
            { data: C_LO_CN, color: PINK, width: 3.5, smooth: true },
            { data: C_LO_OLIVE, color: OLIVE, width: 3.5, smooth: true },
            { data: C_LO_CC, color: TEAL, width: 3.5, smooth: true },
            { data: C_LO_ENV, color: FIT, width: 3.5, smooth: true },
          ]}
          notes={C_NOTES}
          letter={{ e: 295.51, v: 1203, t: "(c)" }}
          titleX={1753}
          yLabel={[1391, 242]}
        />
        <Panel
          id="d"
          box={[59, 544, 692, 985]}
          xDomain={[220, 240]}
          yDomain={[0, 1300]}
          major={D_MAJOR}
          minor={D_MINOR}
          series={[
            { data: D_UP_RAW, color: RAW, width: 3 },
            { data: D_UP_BG, color: BLUE, width: 3.5, smooth: true },
            { data: D_UP_D32, color: TEAL, width: 3.5, smooth: true },
            { data: D_UP_ENV, color: FIT, width: 3.5, smooth: true },
            { data: D_LO_RAW, color: RAW, width: 3 },
            { data: D_LO_BG, color: BLUE, width: 3.5, smooth: true },
            { data: D_LO_OLIVE, color: OLIVE, width: 3.5, smooth: true },
            { data: D_LO_D32, color: PINK, width: 3.5, smooth: true },
            { data: D_LO_D52, color: TEAL, width: 3.5, smooth: true },
            { data: D_LO_ENV, color: FIT, width: 3.5, smooth: true },
          ]}
          notes={D_NOTES}
          letter={{ e: 237.32, v: 1205, t: "(d)" }}
          titleX={389}
          yLabel={[36, 763]}
        />
        <Panel
          id="e"
          box={[752, 544, 1359, 985]}
          xDomain={[841, 884]}
          yDomain={[0, 1300]}
          major={E_MAJOR}
          minor={E_MINOR}
          series={[
            { data: E_UP_RAW, color: RAW, width: 3 },
            { data: E_UP_NI2, color: PINK, width: 3.5, smooth: true },
            { data: E_UP_P12, color: OLIVE, width: 3.5, smooth: true },
            { data: E_UP_P32, color: TEAL, width: 3.5, smooth: true },
            { data: E_UP_NI3, color: NAVY, width: 3.5, smooth: true },
            { data: E_UP_ENV, color: FIT, width: 3.5, smooth: true },
            { data: E_LO_RAW, color: RAW, width: 3 },
            { data: E_LO_NI2, color: PINK, width: 3.5, smooth: true },
            { data: E_LO_P12, color: OLIVE, width: 3.5, smooth: true },
            { data: E_LO_P32, color: TEAL, width: 3.5, smooth: true },
            { data: E_LO_NI3, color: NAVY, width: 3.5, smooth: true },
            { data: E_LO_ENV, color: FIT, width: 3.5, smooth: true },
          ]}
          notes={E_NOTES}
          letter={{ e: 878.61, v: 1205, t: "(e)" }}
          titleX={1083}
          yLabel={[728, 768]}
        />
        <Panel
          id="f"
          box={[1423, 544, 2033, 985]}
          xDomain={[157, 176]}
          yDomain={[0, 1300]}
          major={F_MAJOR}
          minor={F_MINOR}
          series={[
            { data: F_UP_RAW, color: RAW, width: 3 },
            { data: F_UP_BG, color: BLUE, width: 3, smooth: true },
            { data: F_UP_BROAD, color: PINK, width: 3.5, smooth: true },
            { data: F_UP_P32, color: TEAL, width: 3.5, smooth: true },
            { data: F_UP_P12, color: OLIVE, width: 3.5, smooth: true },
            { data: F_UP_ENV, color: FIT, width: 3.5, smooth: true },
            { data: F_LO_RAW, color: RAW, width: 3 },
            { data: F_LO_P12, color: TEAL, width: 3.5, smooth: true },
            { data: F_LO_OLIVE, color: OLIVE, width: 3.5, smooth: true },
            { data: F_LO_NAVY, color: NAVY, width: 3.5, smooth: true },
            { data: F_LO_P32, color: PINK, width: 3.5, smooth: true },
            { data: F_LO_ENV, color: FIT, width: 3.5, smooth: true },
          ]}
          notes={F_NOTES}
          letter={{ e: 173.77, v: 1195, t: "(f)" }}
          titleX={1745}
          yLabel={[1404, 771]}
        />
      </svg>
    </div>
  );
}
